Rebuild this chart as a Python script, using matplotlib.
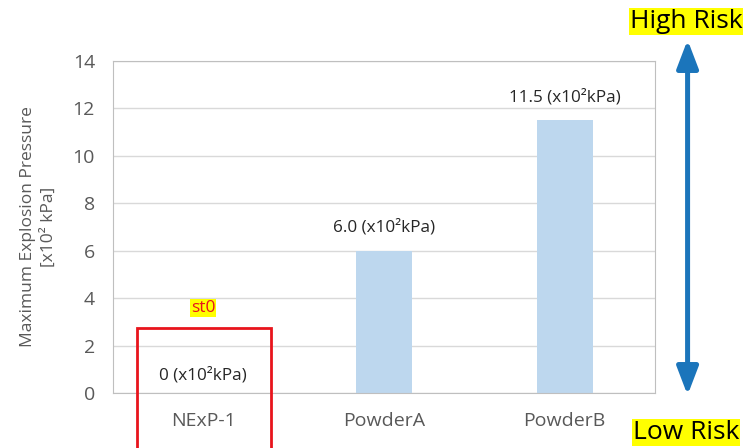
import matplotlib.pyplot as plt
from matplotlib.patches import Rectangle, FancyArrowPatch

plt.rcParams['font.family'] = ['Open Sans', 'DejaVu Sans']

# data
categories = ["NExP-1", "PowderA", "PowderB"]
pressures = [0.0, 6.0, 11.5]
value_labels = ["0 (x10²kPa)", "6.0 (x10²kPa)", "11.5 (x10²kPa)"]
y_ticks = [0, 2, 4, 6, 8, 10, 12, 14]

fig = plt.figure(figsize=(7.49, 4.48), dpi=100)
ax = fig.add_axes([0.1509, 0.1228, 0.7237, 0.741])

x = list(range(len(categories)))
ax.bar(x, pressures, width=0.31, color="#BDD7EE", zorder=2)

ax.set_xlim(-0.5, 2.5)
ax.set_ylim(0, 14)
ax.set_yticks(y_ticks)
ax.set_xticks(x)
ax.set_xticklabels(categories)
ax.tick_params(axis="both", length=0, colors="#595959", labelsize=14)
ax.tick_params(axis="x", pad=14)
ax.tick_params(axis="y", pad=13)
ax.grid(axis="y", color="#D9D9D9", linewidth=1, zorder=0)
for s in ax.spines.values():
    s.set_color("#BFBFBF")

ax.set_ylabel("Maximum Explosion Pressure\n[x10² kPa]", color="#595959",
              fontsize=12.5, labelpad=11, linespacing=1.45)

# value labels above bars (the zero bar gets its label inside the box)
label_offsets = [0.42, 0.63, 0.63]
for xi, v, lab, off in zip(x, pressures, value_labels, label_offsets):
    ax.text(xi, v + off, lab, ha="center", va="bottom", fontsize=12.3, color="#262626")

# red highlight box around the first category
box = Rectangle((-0.367, -3.0), 0.741, 5.74, fill=False, edgecolor="#E8141C",
                linewidth=2, clip_on=False, zorder=5)
ax.add_patch(box)
ax.text(0, 3.25, "st0", ha="center", va="bottom", fontsize=12.5, color="#E8141C",
        bbox=dict(facecolor="#FFFF00", edgecolor="none", pad=0.5))

# risk scale arrow on the right
arrow = FancyArrowPatch((0.918, 0.118), (0.918, 0.911), transform=fig.transFigure,
                        arrowstyle="<|-|>,head_length=17,head_width=6.5",
                        mutation_scale=1, color="#1B75BB", linewidth=3.6,
                        shrinkA=0, shrinkB=0)
fig.patches.append(arrow)
fig.text(0.916, 0.952, "High Risk", ha="center", va="center", fontsize=19, color="#000000",
         bbox=dict(facecolor="#FFFF00", edgecolor="none", pad=0.5))
fig.text(0.916, 0.035, "Low Risk", ha="center", va="center", fontsize=19, color="#000000",
         bbox=dict(facecolor="#FFFF00", edgecolor="none", pad=0.5))

fig.savefig("out.png", dpi=100)
